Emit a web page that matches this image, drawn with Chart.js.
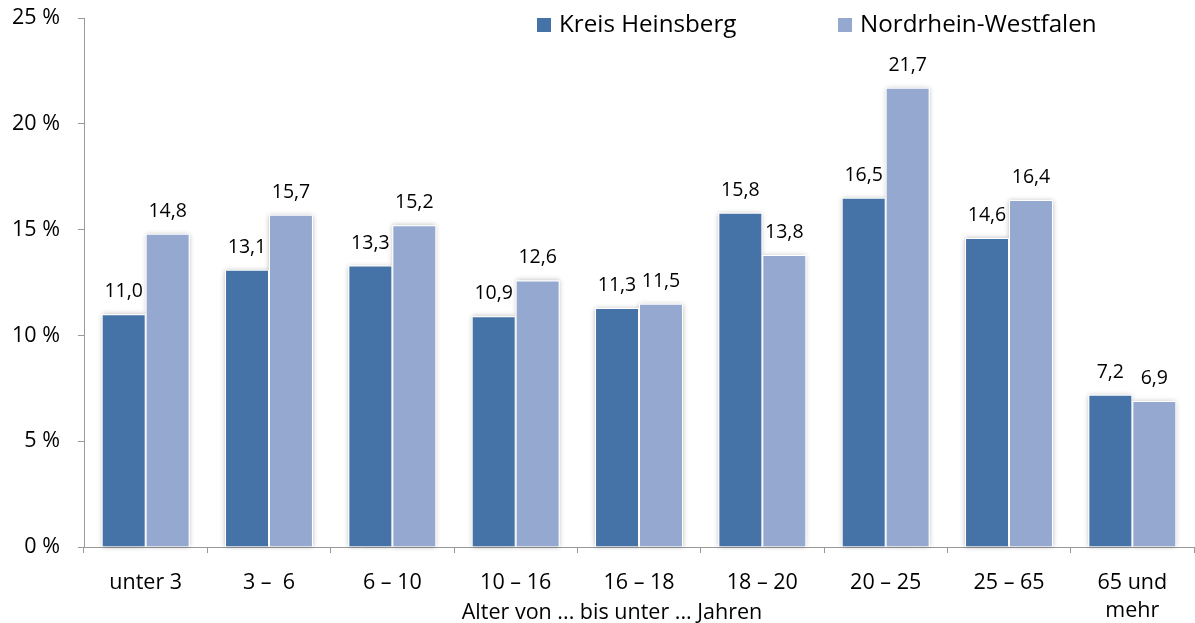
<!DOCTYPE html>
<html>
<head>
<meta charset="utf-8">
<script src="https://cdn.jsdelivr.net/npm/chart.js@4"></script>
<style>
  html, body { margin: 0; padding: 0; background: #ffffff; }
  #wrap { width: 1195px; height: 623px; position: relative; }
</style>
</head>
<body>
<div id="wrap"><canvas id="c" width="1195" height="623"></canvas></div>
<script>
const categories = ['unter 3', '3 –  6', '6 – 10', '10 – 16', '16 – 18', '18 – 20', '20 – 25', '25 – 65', ['65 und', 'mehr']];
const seriesNames = ['Kreis Heinsberg', 'Nordrhein-Westfalen'];
const heinsberg = [11.0, 13.1, 13.3, 10.9, 11.3, 15.8, 16.5, 14.6, 7.2];
const nrw = [14.8, 15.7, 15.2, 12.6, 11.5, 13.8, 21.7, 16.4, 6.9];
const yTicks = [0, 5, 10, 15, 20, 25];
const axisTitle = 'Alter von ... bis unter ... Jahren';

const DARK = '#4572a7';
const LIGHT = '#95a9d0';
const FONT = "'Open Sans', 'Liberation Sans', sans-serif";

function fmt(v) { return v.toFixed(1).replace('.', ','); }

const decor = {
  id: 'decor',
  beforeDatasetsDraw(chart) {
    const ctx = chart.ctx;
    ctx.save();
    ctx.shadowColor = 'rgba(0,0,0,0.28)';
    ctx.shadowBlur = 5;
    ctx.shadowOffsetX = 0;
    ctx.shadowOffsetY = 0;
    ctx.fillStyle = '#ffffff';
    chart.data.datasets.forEach((ds, i) => {
      chart.getDatasetMeta(i).data.forEach(el => {
        const w = el.width;
        ctx.fillRect(el.x - w / 2, el.y, w, el.base - el.y);
      });
    });
    ctx.restore();
  },
  afterDatasetsDraw(chart) {
    const ctx = chart.ctx;
    ctx.save();
    ctx.font = '19.5px ' + FONT;
    ctx.fillStyle = '#000000';
    ctx.textAlign = 'center';
    ctx.textBaseline = 'alphabetic';
    chart.data.datasets.forEach((ds, i) => {
      chart.getDatasetMeta(i).data.forEach((el, j) => {
        ctx.fillText(fmt(ds.data[j]), el.x, el.y - 17);
      });
    });
    ctx.restore();
  },
  afterDraw(chart) {
    const ctx = chart.ctx;
    ctx.save();
    // legend
    const items = [
      { sx: 537, tx: 559 },
      { sx: 838, tx: 860 }
    ];
    ctx.font = '24.2px ' + FONT;
    ctx.textBaseline = 'alphabetic';
    ctx.textAlign = 'left';
    chart.data.datasets.forEach((ds, i) => {
      const it = items[i];
      ctx.fillStyle = ds.backgroundColor;
      ctx.fillRect(it.sx, 18, 14, 14);
      ctx.fillStyle = '#000000';
      ctx.fillText(ds.label, it.tx, 32);
    });
    // axis title
    ctx.font = '21.5px ' + FONT;
    ctx.textAlign = 'center';
    ctx.fillText(axisTitle, 612, 619);
    ctx.restore();
  }
};

new Chart(document.getElementById('c'), {
  type: 'bar',
  data: {
    labels: categories,
    datasets: [
      { label: seriesNames[0], data: heinsberg, backgroundColor: DARK, borderColor: '#ffffff', borderWidth: 1, borderSkipped: 'bottom' },
      { label: seriesNames[1], data: nrw, backgroundColor: LIGHT, borderColor: '#ffffff', borderWidth: 1, borderSkipped: 'bottom' }
    ]
  },
  options: {
    responsive: false,
    animation: false,
    devicePixelRatio: 1,
    layout: { padding: { top: 18, right: 1, left: 0, bottom: 0 } },
    datasets: { bar: { categoryPercentage: 0.713, barPercentage: 1.0 } },
    plugins: {
      legend: { display: false },
      tooltip: { enabled: false },
      title: { display: false }
    },
    scales: {
      x: {
        offset: true,
        afterFit(scale) { scale.height = 76; scale.paddingLeft = 0; scale.paddingRight = 0; },
        grid: { display: true, offset: true, drawOnChartArea: false, drawTicks: true, tickLength: 6, color: '#999999', lineWidth: 1 },
        border: { display: true, color: '#999999', width: 1 },
        ticks: { color: '#000000', font: { family: FONT, size: 21.5, lineHeight: 1.3 }, padding: 16, maxRotation: 0, autoSkip: false }
      },
      y: {
        min: 0,
        max: 25,
        afterFit(scale) { scale.width = 84; scale.paddingTop = 0; scale.paddingBottom = 0; },
        afterBuildTicks(scale) { scale.ticks = yTicks.map(v => ({ value: v })); },
        grid: { display: true, drawOnChartArea: false, drawTicks: true, tickLength: 6, color: '#999999', lineWidth: 1 },
        border: { display: true, color: '#999999', width: 1 },
        ticks: { color: '#000000', font: { family: FONT, size: 21.5 }, padding: 18, callback: v => v + ' %' }
      }
    }
  },
  plugins: [decor]
});
</script>
</body>
</html>
